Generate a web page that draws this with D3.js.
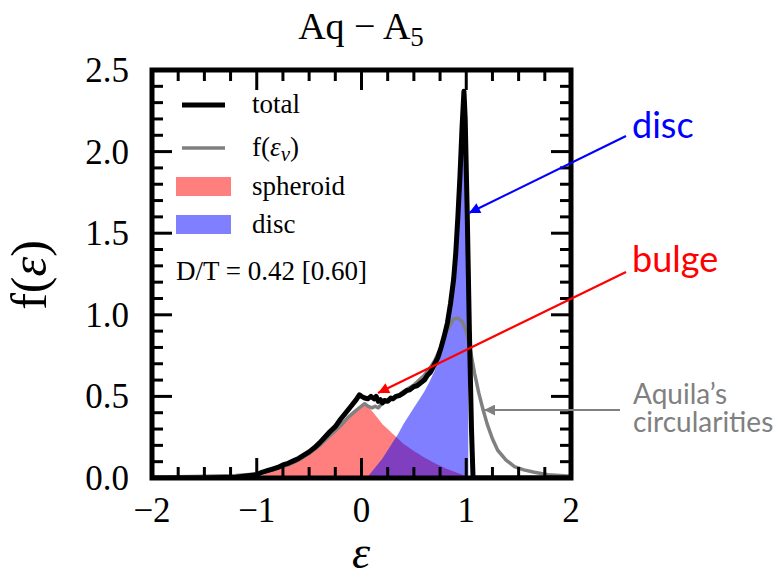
<!DOCTYPE html>
<html>
<head>
<meta charset="utf-8">
<title>Aq - A5 circularity</title>
<script src="https://cdn.jsdelivr.net/npm/d3@7"></script>
<style>
  body { margin: 0; background: #fff; }
  svg { display: block; }
</style>
</head>
<body>
<div id="chart"></div>
<script>
// data
var totalEps = [-2.0, -1.5, -1.2, -1.0, -0.95, -0.9, -0.85, -0.8, -0.75, -0.7, -0.65, -0.6, -0.55, -0.5, -0.45, -0.4, -0.35, -0.3, -0.25, -0.2, -0.15, -0.1, -0.05, -0.02, 0.0, 0.03, 0.06, 0.09, 0.12, 0.14, 0.16, 0.18, 0.2, 0.22, 0.25, 0.28, 0.3, 0.33, 0.36, 0.4, 0.43, 0.46, 0.5, 0.53, 0.56, 0.6, 0.63, 0.66, 0.7, 0.73, 0.76, 0.79, 0.82, 0.85, 0.88, 0.9, 0.92, 0.94, 0.96, 0.978, 0.99, 1.01, 1.03, 1.05, 1.065, 2.0];
var totalF   = [0.0, 0.0, 0.005, 0.02, 0.035, 0.045, 0.055, 0.065, 0.08, 0.09, 0.105, 0.12, 0.14, 0.16, 0.185, 0.215, 0.25, 0.285, 0.315, 0.36, 0.4, 0.44, 0.48, 0.51, 0.5, 0.49, 0.485, 0.5, 0.485, 0.5, 0.47, 0.48, 0.46, 0.475, 0.47, 0.49, 0.485, 0.5, 0.505, 0.52, 0.535, 0.54, 0.56, 0.565, 0.58, 0.6, 0.63, 0.65, 0.7, 0.74, 0.8, 0.87, 0.95, 1.07, 1.22, 1.38, 1.6, 1.85, 2.15, 2.37, 2.2, 1.6, 0.9, 0.3, 0.0, 0.0];

var vEps = [-2.0, -1.5, -1.2, -1.0, -0.9, -0.8, -0.7, -0.6, -0.5, -0.4, -0.3, -0.2, -0.13, -0.06, 0.0, 0.03, 0.06, 0.1, 0.13, 0.16, 0.2, 0.24, 0.28, 0.32, 0.36, 0.4, 0.45, 0.5, 0.55, 0.6, 0.65, 0.7, 0.75, 0.8, 0.84, 0.88, 0.92, 0.96, 1.0, 1.04, 1.08, 1.12, 1.16, 1.2, 1.25, 1.3, 1.38, 1.46, 1.55, 1.65, 1.78, 2.0];
var vF   = [0.005, 0.01, 0.015, 0.025, 0.04, 0.06, 0.08, 0.11, 0.15, 0.2, 0.26, 0.32, 0.37, 0.41, 0.44, 0.455, 0.44, 0.43, 0.44, 0.43, 0.46, 0.47, 0.48, 0.5, 0.51, 0.53, 0.55, 0.57, 0.6, 0.63, 0.67, 0.72, 0.79, 0.88, 0.93, 0.975, 0.98, 0.96, 0.9, 0.78, 0.64, 0.52, 0.42, 0.33, 0.24, 0.17, 0.11, 0.07, 0.05, 0.035, 0.02, 0.01];

var sphEps = [-1.0, -0.9, -0.8, -0.7, -0.6, -0.5, -0.4, -0.3, -0.2, -0.13, -0.06, 0.0, 0.03, 0.06, 0.1, 0.15, 0.2, 0.25, 0.3, 0.35, 0.4, 0.5, 0.6, 0.7, 0.8, 0.9, 1.0, 1.05];
var sphF   = [0.0, 0.03, 0.055, 0.075, 0.105, 0.145, 0.195, 0.255, 0.315, 0.36, 0.4, 0.43, 0.45, 0.44, 0.41, 0.37, 0.33, 0.3, 0.27, 0.24, 0.21, 0.165, 0.125, 0.09, 0.06, 0.035, 0.01, 0.0];

var discEps = [0.05, 0.1, 0.15, 0.2, 0.25, 0.3, 0.35, 0.4, 0.45, 0.5, 0.55, 0.6, 0.65, 0.7, 0.75, 0.8, 0.85, 0.88, 0.9, 0.92, 0.94, 0.96, 0.975, 1.0, 1.015, 1.02];
var discF   = [0.0, 0.04, 0.08, 0.12, 0.17, 0.22, 0.27, 0.33, 0.38, 0.43, 0.48, 0.53, 0.59, 0.66, 0.75, 0.88, 1.03, 1.17, 1.32, 1.53, 1.78, 2.08, 2.3, 2.0, 1.5, 0.0];

var xMajor = [-2, -1, 0, 1, 2];
var yMajor = [0, 0.5, 1.0, 1.5, 2.0, 2.5];
var xMinor = [-1.75, -1.5, -1.25, -0.75, -0.5, -0.25, 0.25, 0.5, 0.75, 1.25, 1.5, 1.75];
var yMinor = [0.1, 0.2, 0.3, 0.4, 0.6, 0.7, 0.8, 0.9, 1.1, 1.2, 1.3, 1.4, 1.6, 1.7, 1.8, 1.9, 2.1, 2.2, 2.3, 2.4];

var width = 780, height = 578;
// plot box (window.top is read-only, so no bare "top")
var pLeft = 152, pRight = 571, pTop = 70, pBottom = 478;

var svg = d3.select("#chart").append("svg")
    .attr("width", width)
    .attr("height", height);

var x = d3.scaleLinear().domain([-2, 2]).range([pLeft, pRight]);
var y = d3.scaleLinear().domain([0, 2.5]).range([pBottom, pTop]);

svg.append("clipPath").attr("id", "clip")
  .append("rect")
    .attr("x", pLeft).attr("y", pTop)
    .attr("width", pRight - pLeft).attr("height", pBottom - pTop);

var plot = svg.append("g").attr("clip-path", "url(#clip)");

function zipPts(xs, ys) {
    return xs.map(function(v, i) { return [v, ys[i]]; });
}

var area = d3.area()
    .x(function(d) { return x(d[0]); })
    .y0(y(0))
    .y1(function(d) { return y(d[1]); });

var line = d3.line()
    .x(function(d) { return x(d[0]); })
    .y(function(d) { return y(d[1]); });

// filled components
plot.append("path")
    .datum(zipPts(sphEps, sphF))
    .attr("d", area)
    .attr("fill", "red")
    .attr("fill-opacity", 0.5);

plot.append("path")
    .datum(zipPts(discEps, discF))
    .attr("d", area)
    .attr("fill", "blue")
    .attr("fill-opacity", 0.5);

// curves
plot.append("path")
    .datum(zipPts(vEps, vF))
    .attr("d", line)
    .attr("fill", "none")
    .attr("stroke", "#808080")
    .attr("stroke-width", 3.5)
    .attr("stroke-linejoin", "round");

plot.append("path")
    .datum(zipPts(totalEps, totalF))
    .attr("d", line)
    .attr("fill", "none")
    .attr("stroke", "black")
    .attr("stroke-width", 5)
    .attr("stroke-linejoin", "round");

// frame
svg.append("rect")
    .attr("x", pLeft).attr("y", pTop)
    .attr("width", pRight - pLeft).attr("height", pBottom - pTop)
    .attr("fill", "none")
    .attr("stroke", "black")
    .attr("stroke-width", 5);

// inward ticks on all four sides, positioned by the scales
var tickG = svg.append("g").attr("stroke", "#000").attr("stroke-width", 3);
function xTicks(vals, len) {
    tickG.append("g").selectAll("line").data(vals).join("line")
        .attr("x1", function(d) { return x(d); }).attr("x2", function(d) { return x(d); })
        .attr("y1", pBottom).attr("y2", pBottom - len);
    tickG.append("g").selectAll("line").data(vals).join("line")
        .attr("x1", function(d) { return x(d); }).attr("x2", function(d) { return x(d); })
        .attr("y1", pTop).attr("y2", pTop + len);
}
function yTicks(vals, len) {
    tickG.append("g").selectAll("line").data(vals).join("line")
        .attr("y1", function(d) { return y(d); }).attr("y2", function(d) { return y(d); })
        .attr("x1", pLeft).attr("x2", pLeft + len);
    tickG.append("g").selectAll("line").data(vals).join("line")
        .attr("y1", function(d) { return y(d); }).attr("y2", function(d) { return y(d); })
        .attr("x1", pRight).attr("x2", pRight - len);
}
xTicks(xMinor, 11);
xTicks(xMajor, 20);
yTicks(yMinor, 11);
yTicks(yMajor, 20);

var serif = "'Liberation Serif', 'Times New Roman', serif";
var fmtMinus = function(v) { return (v < 0 ? "\u2212" : "") + Math.abs(v); };

// tick labels
svg.selectAll(".xlab").data(xMajor).join("text")
    .attr("class", "xlab")
    .attr("x", function(d) { return x(d); })
    .attr("y", 522)
    .attr("text-anchor", "middle")
    .style("font-family", serif).style("font-size", "35px")
    .text(fmtMinus);

svg.selectAll(".ylab").data(yMajor).join("text")
    .attr("class", "ylab")
    .attr("x", 129)
    .attr("y", function(d) { return y(d) + 12; })
    .attr("text-anchor", "end")
    .style("font-family", serif).style("font-size", "35px")
    .text(function(d) { return d.toFixed(1); });

// title
var title = svg.append("text")
    .attr("x", 361).attr("y", 39)
    .attr("text-anchor", "middle")
    .style("font-family", serif).style("font-size", "38px");
title.append("tspan").text("Aq \u2212 A");
title.append("tspan").attr("dy", 7).style("font-size", "27px").text("5");

// axis labels
svg.append("text")
    .attr("x", 361).attr("y", 568)
    .attr("text-anchor", "middle")
    .style("font-family", serif).style("font-size", "46px").style("font-style", "italic")
    .text("\u03b5");

var ylab = svg.append("text")
    .attr("transform", "translate(46,275) rotate(-90)")
    .attr("text-anchor", "middle")
    .style("font-family", serif).style("font-size", "50px");
ylab.append("tspan").text("f(");
ylab.append("tspan").style("font-style", "italic").text("\u03b5");
ylab.append("tspan").text(")");

// legend
var leg = svg.append("g").style("font-family", serif).style("font-size", "27px");
leg.append("line").attr("x1", 182).attr("x2", 225).attr("y1", 105).attr("y2", 105)
    .attr("stroke", "black").attr("stroke-width", 5);
leg.append("text").attr("x", 252).attr("y", 113).text("total");
leg.append("line").attr("x1", 182).attr("x2", 225).attr("y1", 148).attr("y2", 148)
    .attr("stroke", "#808080").attr("stroke-width", 3.5);
var lf = leg.append("text").attr("x", 252).attr("y", 156);
lf.append("tspan").text("f(");
lf.append("tspan").style("font-style", "italic").text("\u03b5");
lf.append("tspan").attr("dy", 5).style("font-style", "italic").style("font-size", "21px").text("\u03bd");
lf.append("tspan").attr("dy", -5).text(")");
leg.append("rect").attr("x", 176).attr("y", 177).attr("width", 55).attr("height", 19)
    .attr("fill", "red").attr("fill-opacity", 0.5);
leg.append("text").attr("x", 252).attr("y", 195).text("spheroid");
leg.append("rect").attr("x", 176).attr("y", 215).attr("width", 55).attr("height", 19)
    .attr("fill", "blue").attr("fill-opacity", 0.5);
leg.append("text").attr("x", 252).attr("y", 233).text("disc");
leg.append("text").attr("x", 176).attr("y", 280).text("D/T = 0.42 [0.60]");

// annotations with arrows
var defs = svg.append("defs");
[["blue", "blue"], ["red", "red"], ["grey", "#808080"]].forEach(function(c) {
    defs.append("marker")
        .attr("id", "arr-" + c[0])
        .attr("viewBox", "0 0 10 10")
        .attr("refX", 10).attr("refY", 5)
        .attr("markerWidth", 7).attr("markerHeight", 5)
        .attr("markerUnits", "strokeWidth")
        .attr("orient", "auto")
      .append("path")
        .attr("d", "M0,0 L10,5 L0,10 z")
        .attr("fill", c[1]);
});

var notes = [
    {text: ["disc"], color: "blue", id: "blue", from: [626, 136], to: [469, 213], tx: 632, ty: 138, size: 36},
    {text: ["bulge"], color: "red", id: "red", from: [626, 272], to: [378, 393], tx: 632, ty: 272, size: 36},
    {text: ["Aquila\u2019s", "circularities"], color: "#808080", id: "grey", from: [620, 410], to: [484, 410], tx: 633, ty: 404, size: 28}
];
notes.forEach(function(n) {
    svg.append("line")
        .attr("x1", n.from[0]).attr("y1", n.from[1])
        .attr("x2", n.to[0]).attr("y2", n.to[1])
        .attr("stroke", n.color).attr("stroke-width", 2.2)
        .attr("marker-end", "url(#arr-" + n.id + ")");
    var t = svg.append("text")
        .attr("x", n.tx).attr("y", n.ty)
        .attr("fill", n.color)
        .style("font-family", "Lato, 'Open Sans', sans-serif")
        .style("font-size", n.size + "px");
    n.text.forEach(function(s, i) {
        t.append("tspan").attr("x", n.tx).attr("dy", i === 0 ? 0 : 28).text(s);
    });
});
</script>
</body>
</html>
